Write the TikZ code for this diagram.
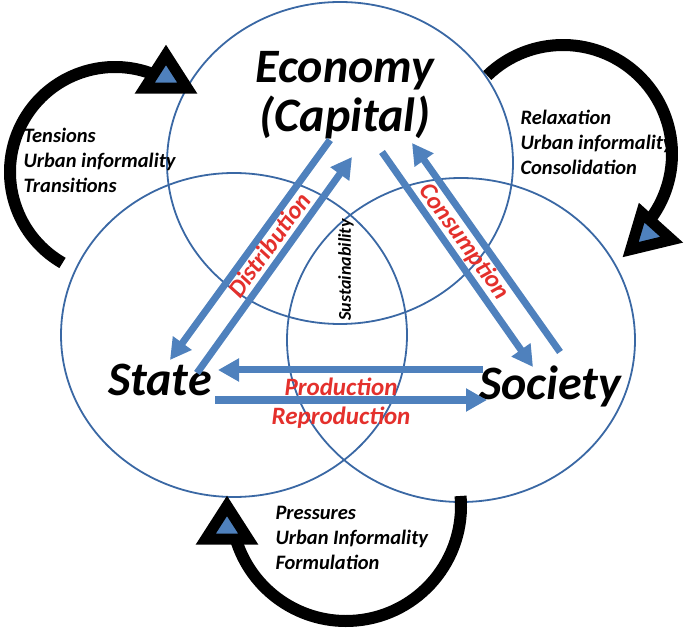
\documentclass[tikz,border=0pt]{standalone}
\usepackage{fontspec}
\setmainfont{Carlito}
\usetikzlibrary{positioning, arrows.meta, shapes.geometric}
\definecolor{ringblue}{RGB}{58,104,164}
\definecolor{flowblue}{RGB}{79,129,189}
\definecolor{flowred}{RGB}{228,48,44}
\tikzset{
  ring/.style={draw=ringblue, line width=1.8pt},
  flow/.style={flowblue, line width=7pt, -{Triangle[width=22pt, length=21pt]}},
  loopline/.style={black, line width=12pt},
  loophead/.style={regular polygon, regular polygon sides=3, minimum size=49pt, inner sep=0pt,
    draw=black, line width=11pt, fill=flowblue, yscale=0.9, transform shape},
  pole/.style={font=\fontsize{48}{49}\selectfont\bfseries\itshape, align=center},
  flowlabel/.style={text=flowred, font=\fontsize{25}{29}\selectfont\bfseries\itshape, align=center},
  note/.style={font=\fontsize{20.5}{25}\selectfont\bfseries\itshape, align=left}
}

\begin{document}
\begin{tikzpicture}[x=1pt, y=1pt]
  \useasboundingbox (0,0) rectangle (685,627);

  \draw[ring] (340,464) ellipse [x radius=173, y radius=161];
  \draw[ring] (234,292) ellipse [x radius=173, y radius=162];
  \draw[ring] (461,287) ellipse [x radius=174, y radius=162];

  \node[pole, anchor=base] (econ) at (345,495) {Economy\\(Capital)};
  \node[pole, anchor=base] (state) at (160,232) {State};
  \node[pole, anchor=base] (society) at (550,227) {Society};

  \coordinate (dist-from) at (330,487);
  \coordinate (dist-to) at (170,267);
  \coordinate (dist-back) at (197,254);
  \coordinate (dist-up) at (352,470);
  \coordinate (cons-from) at (382,475);
  \coordinate (cons-to) at (533,260);
  \coordinate (cons-back) at (560,275);
  \coordinate (cons-up) at (412,484);
  \coordinate (prod-from) at (483,257);
  \coordinate (prod-to) at (218,257);
  \coordinate (prod-back) at (215,227);
  \coordinate (prod-on) at (487,227);

  \draw[flow] (dist-from) -- (dist-to);
  \draw[flow] (dist-back) -- (dist-up);
  \draw[flow] (cons-from) -- (cons-to);
  \draw[flow] (cons-back) -- (cons-up);
  \draw[flow] (prod-from) -- (prod-to);
  \draw[flow] (prod-back) -- (prod-on);

  \node[flowlabel, rotate=54] (dist) at (269,382) {Distribution};
  \node[flowlabel, rotate=-54] (cons) at (464,385) {Consumption};
  \node[flowlabel] (prod) at (341,224) {Production\\Reproduction};
  \node[font=\fontsize{18}{20}\selectfont\bfseries\itshape, rotate=90] (sust) at (346,357) {Sustainability};

  \coordinate (tens-c) at (115,455);
  \coordinate (relax-c) at (563,473);
  \coordinate (press-c) at (346,121);
  \draw[loopline] ([shift={(240:105)}]tens-c) arc[start angle=240, end angle=68, radius=105];
  \draw[loopline] ([shift={(134:109)}]relax-c) arc[start angle=134, end angle=-42, radius=109];
  \draw[loopline] ([shift={(5:115)}]press-c) arc[start angle=5, end angle=-164, radius=115];
  \node[loophead] (tens-head) at (166,550) {};
  \node[loophead, rotate=15] (relax-head) at (648,393) {};
  \node[loophead] (press-head) at (227,99) {};

  \node[note, anchor=base west] (tens) at (20,434) {Tensions\\Urban informality\\Transitions};
  \node[note, anchor=base west] (relax) at (517,452) {Relaxation\\Urban informality\\Consolidation};
  \node[note, anchor=base west] (press) at (272,58) {Pressures\\Urban Informality\\Formulation};
\end{tikzpicture}
\end{document}
